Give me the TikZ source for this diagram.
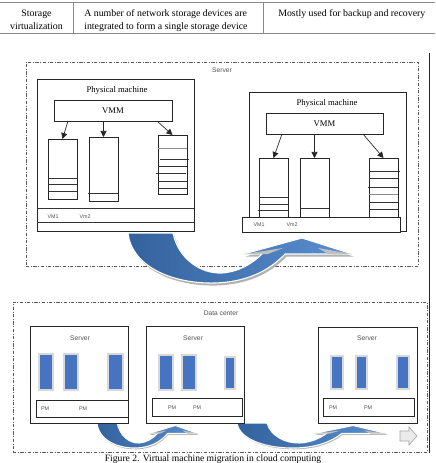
\documentclass[tikz,border=0pt]{standalone}
\usepackage{fontspec}
\setmainfont{Liberation Serif}
\newfontfamily\lsans{Liberation Sans}
\usetikzlibrary{arrows.meta,fit,calc}
\definecolor{tblgray}{HTML}{8A8A8A}
\definecolor{dkblue}{HTML}{33629C}
\definecolor{ltblue}{HTML}{5B8FD2}
\definecolor{pmblue}{HTML}{4674C0}
\definecolor{lbl}{HTML}{505050}
\newcommand{\migpath}{(0,0) .. controls (4,35) and (47,51) .. (87,50) .. controls (117,49) and (140,39) .. (157,21) -- (224,21) -- (174,5) -- (116,21) -- (134,21) .. controls (124,31) and (110,39) .. (94,40) .. controls (72,41) and (50,25) .. (45,0) -- cycle}
\newcommand{\migarrow}{%
  \fill[black!30, shift={(1.5,2.5)}] \migpath;
  \path[left color=dkblue, right color=ltblue, draw=white, line width=0.8pt] \migpath;
  \fill[black!25] (116,21) -- (140,21) -- (155,15) -- cycle;
  \fill[black!25] (224,21) -- (200,21) -- (190,15) -- cycle;
}
\tikzset{
  dd/.style={draw=black!65, line width=0.5pt, dash pattern=on 2.5pt off 1.2pt on 0.6pt off 1.2pt},
  fbox/.style={inner sep=0pt, outer sep=0pt},
  pmbox/.style={fbox, draw=black!85, line width=0.6pt, fill=white},
  vmbox/.style={fbox, draw=black!85, line width=0.6pt},
  vml/.style={draw=black!80, line width=0.6pt},
  vmarrow/.style={-{Triangle[length=4.5pt,width=4.5pt]}, line width=0.5pt, draw=black!85},
  slabel/.style={font=\lsans\fontsize{5}{6}\selectfont, text=lbl, inner sep=0pt},
  tiny/.style={font=\lsans\fontsize{4}{5}\selectfont, text=lbl, inner sep=0pt},
  serlabel/.style={font=\fontsize{6.5}{8}\selectfont, inner sep=0pt},
  blk/.style={fbox, fill=pmblue, draw=black!15, line width=1.4pt},
  tbl/.style={font=\fontsize{7.4}{9}\selectfont, inner sep=0pt},
}
\begin{document}
\begin{tikzpicture}[x=0.75pt, y=-0.75pt]
\useasboundingbox (0,0) rectangle (435,463);
\fill[white] (0,0) rectangle (435,463);

% ---------- table row ----------
\coordinate (t1) at (0,2.5);
\coordinate (t2) at (435,2.5);
\coordinate (t3) at (0,33);
\coordinate (t4) at (435,33);
\draw[tblgray, line width=0.5pt] (t1) -- (t2) (t3) -- (t4);
\draw[tblgray, line width=0.5pt] (73,2.5) -- (73,33) (263,2.5) -- (263,33);
\node[tbl, anchor=base] (c1a) at (36.5,16.5) {Storage};
\node[tbl, anchor=base] (c1b) at (36.5,29.5) {virtualization};
\node[tbl, anchor=base west] (c2a) at (84,16.5) {A number of network storage devices are};
\node[tbl, anchor=base west] (c2b) at (84,29.5) {integrated to form a single storage device};
\node[tbl, anchor=base west] (c3a) at (278,16.5) {Mostly used for backup and recovery};

% ---------- frames ----------
\node[fbox, dd, fit={(26,62)(418,266)}] (srv) {};
\node[fbox, dd, fit={(13,302)(427,452)}] (dc) {};
\draw[black!85, line width=0.6pt] (429,53) -- (429,453);
\node[slabel] (srvl) at (222,70) {Server};
\node[slabel] (dcl) at (221,313) {Data center};

% ---------- migration arrows ----------
\begin{scope}[shift={(128,233)}]
  \migarrow
\end{scope}
\begin{scope}[shift={(97,423)}, xscale=0.45, yscale=0.5]
  \migarrow
\end{scope}
\begin{scope}[shift={(237,423)}, xscale=0.667, yscale=0.5]
  \migarrow
\end{scope}
% small hollow arrow
\draw[black!35, fill=black!8, line width=0.5pt] (400,431) -- (409,431) -- (409,427) -- (417,436) -- (409,445) -- (409,441) -- (400,441) -- cycle;

% ---------- left physical machine ----------
\node[pmbox, fit={(37,79)(194,231)}] (lpm) {};
\node[serlabel] (lpml) at (117,90) {Physical machine};
\node[vmbox, fit={(54,100)(172,121)}] (lvmm) {};
\node[serlabel] at (lvmm.center) {VMM};
\node[vmbox, fit={(48,139)(77,199)}] (lvm1) {};
\node[vmbox, fit={(89,137)(118,201)}] (lvm2) {};
\node[vmbox, fit={(158,135)(187,194)}] (lvm3) {};
\draw[vml] (48,178) -- (77,178) (48,184) -- (77,184) (48,191) -- (77,191);
\draw[vml] (88,193) -- (118,193);
\draw[vml, black!45] (158,148) -- (187,148);
\draw[vml] (160,159) -- (189,159) (158,166) -- (187,166) (156,173) -- (186,173) (158,181) -- (187,181) (158,188) -- (188,188);
\draw[vmarrow] ($(lvmm.south west)+(14,0)$) -- (lvm1.north);
\draw[vmarrow] (lvmm.south -| lvm2.north) -- (lvm2.north);
\draw[vmarrow] ($(lvmm.south west)+(103,0)$) -- (lvm3.north);
\draw[vml] (37,208) -- (194,208) (37,222) -- (194,222);
\node[tiny] (lv1) at (53,217) {VM1};
\node[tiny] (lv2) at (85,217) {Vm2};

% ---------- right physical machine ----------
\node[pmbox, fit={(249,92)(406,231)}] (rpm) {};
\node[serlabel] (rpml) at (327,103) {Physical machine};
\node[vmbox, fit={(266,113)(383,134)}] (rvmm) {};
\node[serlabel] at (rvmm.center) {VMM};
\node[vmbox, fit={(259,158)(288,217)}] (rvm1) {};
\node[vmbox, fit={(300,158)(329,217)}] (rvm2) {};
\node[vmbox, fit={(369,158)(398,217)}] (rvm3) {};
\draw[vml] (259,197) -- (288,197) (259,204) -- (288,204) (258,210) -- (288,210);
\draw[vml] (300,208) -- (329,208);
\draw[vml] (369,171) -- (400,171) (369,178) -- (398,178) (368,187) -- (398,187) (369,202) -- (398,202) (369,209) -- (398,209);
\draw[vml, black!45] (369,194) -- (398,194);
\draw[vmarrow] ($(rvmm.south west)+(16,0)$) -- (rvm1.north);
\draw[vmarrow] (rvmm.south -| rvm2.north) -- (rvm2.north);
\draw[vmarrow] ($(rvmm.south west)+(97,0)$) -- (rvm3.north);
\node[pmbox, fit={(242,217)(400,232)}] (rbar) {};
\node[tiny] (rv1) at (259,225) {VM1};
\node[tiny] (rv2) at (292,225) {Vm2};

% ---------- data center servers ----------
\node[pmbox, fit={(30,326)(128,423)}] (s1) {};
\node[slabel] (s1l) at (80,338) {Server};
\node[blk, fit={(39,354)(53,390)}] (b11) {};
\node[blk, fit={(64,354)(78,390)}] (b12) {};
\node[blk, fit={(108,354)(123,390)}] (b13) {};
\node[pmbox, fit={(36,400)(128,417)}] (p1) {};
\node[tiny] at (45,409) {PM};
\node[tiny] at (83,409) {PM};

\node[pmbox, fit={(146,326)(244,423)}] (s2) {};
\node[slabel] (s2l) at (193,338) {Server};
\node[blk, fit={(159,355)(173,390)}] (b21) {};
\node[blk, fit={(182,355)(196,390)}] (b22) {};
\node[blk, fit={(225,357)(235,389)}] (b23) {};
\node[pmbox, fit={(152,398)(242,416)}] (p2) {};
\node[tiny] at (172,408) {PM};
\node[tiny] at (197,408) {PM};

\node[pmbox, fit={(318,327)(417,423)}] (s3) {};
\node[slabel] (s3l) at (367,338) {Server};
\node[blk, fit={(331,356)(343,389)}] (b31) {};
\node[blk, fit={(356,356)(367,389)}] (b32) {};
\node[blk, fit={(397,356)(409,389)}] (b33) {};
\node[pmbox, fit={(323,398)(414,416)}] (p3) {};
\node[tiny] at (333,408) {PM};
\node[tiny] at (368,408) {PM};

% ---------- caption ----------
\node[tbl, anchor=base, font=\fontsize{7.2}{9}\selectfont] (cap) at (213,461) {Figure 2. Virtual machine migration in cloud computing};
\end{tikzpicture}
\end{document}
